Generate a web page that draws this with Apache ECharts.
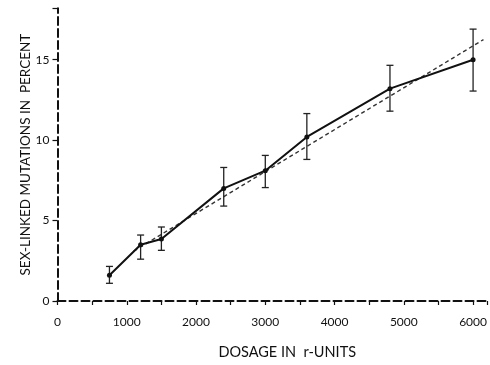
<!DOCTYPE html>
<html>
<head>
<meta charset="utf-8">
<script src="https://cdn.jsdelivr.net/npm/echarts@6/dist/echarts.min.js"></script>
<style>
  html, body { margin: 0; padding: 0; background: #fff; }
  #main { width: 490px; height: 365px; }
</style>
</head>
<body>
<div id="main"></div>
<script>
// dosage (r-units) and observed sex-linked mutation rate (%)
var dosage = [750, 1200, 1500, 2400, 3000, 3600, 4800, 6000];
var mutations = [1.6, 3.5, 3.85, 7.0, 8.1, 10.2, 13.2, 15.0];
var errLow = [1.1, 2.6, 3.15, 5.9, 7.05, 8.8, 11.8, 13.05];
var errHigh = [2.15, 4.1, 4.6, 8.3, 9.05, 11.65, 14.65, 16.9];
// fitted straight line (dashed)
var fitX = [1100, 6150];
var fitY = [3.1, 16.25];

var ink = '#111';
var font = 'Lato';

var points = dosage.map(function (d, i) { return [d, mutations[i]]; });
var bars = dosage.map(function (d, i) { return [d, errLow[i], errHigh[i]]; });
var fit = fitX.map(function (d, i) { return [d, fitY[i]]; });

var chart = echarts.init(document.getElementById('main'));
chart.setOption({
  animation: false,
  backgroundColor: '#fff',
  grid: { left: 57.5, top: 8.2, width: 431.5, height: 300.8 },
  xAxis: {
    type: 'value',
    min: 0,
    max: 6200,
    interval: 1000,
    name: 'DOSAGE IN  r-UNITS',
    nameLocation: 'middle',
    nameGap: 44,
    nameMoveOverlap: false,
    nameTextStyle: { fontFamily: font, fontSize: 14.5, color: ink, padding: [0, 0, 0, 30] },
    axisLine: { lineStyle: { color: ink, width: 2, type: [8, 4] } },
    axisTick: { length: 4, lineStyle: { color: ink, width: 1.2 } },
    minorTick: { show: true, splitNumber: 2, length: 4, lineStyle: { color: ink, width: 1.2 } },
    axisLabel: {
      fontFamily: font, fontSize: 12, color: ink, margin: 15,
      formatter: function (v) { return v > 6000 ? '' : String(v); }
    },
    splitLine: { show: false }
  },
  yAxis: {
    type: 'value',
    min: 0,
    max: 18.2,
    interval: 5,
    name: 'SEX-LINKED MUTATIONS IN  PERCENT',
    nameLocation: 'middle',
    nameGap: 25,
    nameMoveOverlap: false,
    nameTextStyle: { fontFamily: font, fontSize: 13.5, color: ink },
    axisLine: { show: true, lineStyle: { color: ink, width: 2, type: [8, 4] } },
    axisTick: { show: true, length: 5, lineStyle: { color: ink, width: 1.2 } },
    axisLabel: {
      fontFamily: font, fontSize: 12, color: ink, margin: 8,
      formatter: function (v) { return v > 15 ? '' : String(v); }
    },
    splitLine: { show: false }
  },
  series: [
    {
      type: 'line',
      data: fit,
      symbol: 'none',
      lineStyle: { color: '#333', width: 1.4, type: [4, 3] },
      z: 1
    },
    {
      type: 'custom',
      data: bars,
      renderItem: function (params, api) {
        var x = api.value(0);
        var lo = api.coord([x, api.value(1)]);
        var hi = api.coord([x, api.value(2)]);
        var cap = 3.5;
        var style = { stroke: '#222', lineWidth: 1.3 };
        return {
          type: 'group',
          children: [
            { type: 'line', shape: { x1: lo[0], y1: lo[1], x2: hi[0], y2: hi[1] }, style: style },
            { type: 'line', shape: { x1: lo[0] - cap, y1: lo[1], x2: lo[0] + cap, y2: lo[1] }, style: style },
            { type: 'line', shape: { x1: hi[0] - cap, y1: hi[1], x2: hi[0] + cap, y2: hi[1] }, style: style }
          ]
        };
      },
      z: 2
    },
    {
      type: 'line',
      data: points,
      symbol: 'circle',
      symbolSize: 5,
      itemStyle: { color: ink },
      lineStyle: { color: ink, width: 2 },
      z: 3
    }
  ]
});
</script>
</body>
</html>
